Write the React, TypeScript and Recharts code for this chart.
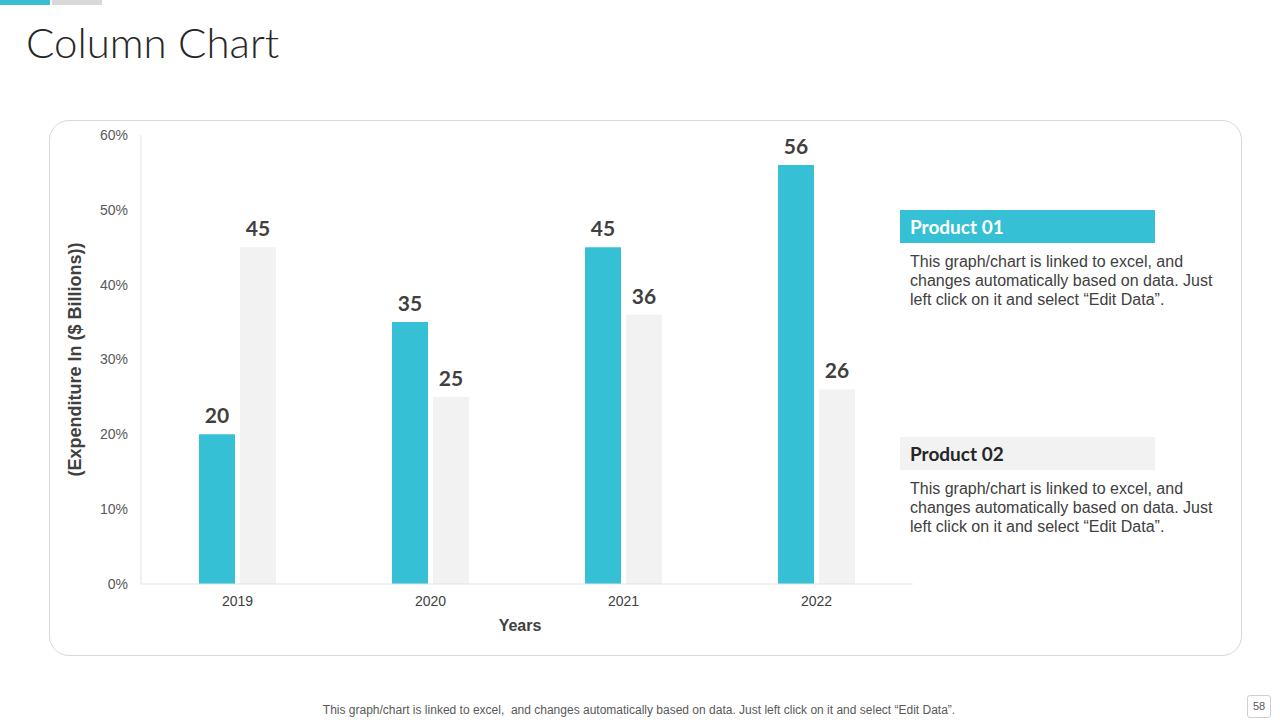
import React from 'react';
import { BarChart, Bar, XAxis, YAxis, LabelList } from 'recharts';

const years = ['2019', '2020', '2021', '2022'];
const product01 = [20, 35, 45, 56];
const product02 = [45, 25, 36, 26];
const yTicks = [0, 10, 20, 30, 40, 50, 60];
const legendNames = ['Product 01', 'Product 02'];
const legendText = [
  'This graph/chart is linked to excel, and',
  'changes automatically based on data. Just',
  'left click on it and select \u201cEdit Data\u201d.',
];
const footerText =
  'This graph/chart is linked to excel,\u00a0 and changes automatically based on data. Just left click on it and select \u201cEdit Data\u201d.';

const TEAL = '#36C0D6';
const GREY = '#F2F2F2';

const data = years.map((y, i) => ({ year: y, p1: product01[i], p2: product02[i] }));

const LegendBlock = ({ top, name, fill, color }: { top: number; name: string; fill: string; color: string }) => (
  <div style={{ position: 'absolute', left: 900, top, width: 320 }}>
    <div
      style={{
        width: 255,
        height: 33,
        background: fill,
        color,
        fontFamily: 'Lato, sans-serif',
        fontWeight: 700,
        fontSize: 19,
        lineHeight: '33px',
        paddingLeft: 10,
        boxSizing: 'border-box',
      }}
    >
      {name}
    </div>
    <div
      style={{
        marginTop: 9,
        paddingLeft: 10,
        fontFamily: '"Liberation Sans", Arial, sans-serif',
        fontSize: 16,
        lineHeight: '19px',
        color: '#404040',
        whiteSpace: 'nowrap',
      }}
    >
      {legendText.map((t, i) => (
        <div key={i}>{t}</div>
      ))}
    </div>
  </div>
);

const labelStyle = { fill: '#404040', fontSize: 21, fontWeight: 700, fontFamily: 'Lato, sans-serif' };

export default function App() {
  return (
    <div style={{ position: 'absolute', left: 0, top: 0, width: 1280, height: 720, background: '#fff', overflow: 'hidden' }}>
      <div style={{ position: 'absolute', left: 0, top: 0, width: 50, height: 5, background: TEAL }} />
      <div style={{ position: 'absolute', left: 52, top: 0, width: 50, height: 5, background: '#D9D9D9' }} />
      <div
        style={{
          position: 'absolute',
          left: 26,
          top: 15,
          fontFamily: 'Lato, sans-serif',
          fontWeight: 300,
          fontSize: 42,
          color: '#262626',
          lineHeight: '54px',
        }}
      >
        Column Chart
      </div>
      <div
        style={{
          position: 'absolute',
          left: 49,
          top: 120,
          width: 1193,
          height: 536,
          border: '1px solid #D9D9D9',
          borderRadius: 20,
          boxSizing: 'border-box',
        }}
      />
      <div style={{ position: 'absolute', left: 0, top: 0 }}>
        <BarChart
          width={1280}
          height={720}
          data={data}
          margin={{ top: 135, right: 367, bottom: 86, left: 41 }}
          barSize={36}
          barGap={5}
        >
          <XAxis
            dataKey="year"
            axisLine={{ stroke: '#E3E3E3' }}
            tickLine={false}
            tickMargin={6}
            tick={{ fill: '#404040', fontSize: 14, fontFamily: '"Liberation Sans", Arial, sans-serif' }}
            height={50}
            label={{
              value: 'Years',
              position: 'insideBottom',
              offset: 3,
              dx: -7,
              style: { fill: '#404040', fontSize: 16, fontWeight: 700, fontFamily: '"Liberation Sans", Arial, sans-serif' },
            }}
          />
          <YAxis
            domain={[0, 60]}
            ticks={yTicks}
            tickFormatter={(v: number) => `${v}%`}
            axisLine={{ stroke: '#E3E3E3' }}
            tickLine={false}
            tickMargin={7}
            width={100}
            interval={0}
            tick={{ fill: '#595959', fontSize: 14, fontFamily: '"Liberation Sans", Arial, sans-serif' }}
            label={{
              value: '(Expenditure In ($ Billions))',
              angle: -90,
              position: 'insideLeft',
              offset: 34,
              style: {
                textAnchor: 'middle',
                fill: '#404040',
                fontSize: 18,
                fontWeight: 700,
                fontFamily: '"Liberation Sans", Arial, sans-serif',
              },
            }}
          />
          <Bar dataKey="p1" name={legendNames[0]} fill={TEAL} isAnimationActive={false}>
            <LabelList dataKey="p1" position="top" offset={11} style={labelStyle} />
          </Bar>
          <Bar dataKey="p2" name={legendNames[1]} fill={GREY} isAnimationActive={false}>
            <LabelList dataKey="p2" position="top" offset={11} style={labelStyle} />
          </Bar>
        </BarChart>
      </div>
      <LegendBlock top={210} name={legendNames[0]} fill={TEAL} color="#FFFFFF" />
      <LegendBlock top={437} name={legendNames[1]} fill={GREY} color="#262626" />
      <div
        style={{
          position: 'absolute',
          left: 0,
          width: 1278,
          top: 703,
          textAlign: 'center',
          fontFamily: '"Liberation Sans", Arial, sans-serif',
          fontSize: 12,
          color: '#595959',
          letterSpacing: 0,
        }}
      >
        {footerText}
      </div>
      <div
        style={{
          position: 'absolute',
          left: 1247,
          top: 695,
          width: 24,
          height: 23,
          border: '1px solid #D0D0D0',
          borderRadius: 3,
          boxSizing: 'border-box',
          fontFamily: '"Liberation Sans", Arial, sans-serif',
          fontSize: 11,
          color: '#595959',
          textAlign: 'center',
          lineHeight: '21px',
        }}
      >
        58
      </div>
    </div>
  );
}
